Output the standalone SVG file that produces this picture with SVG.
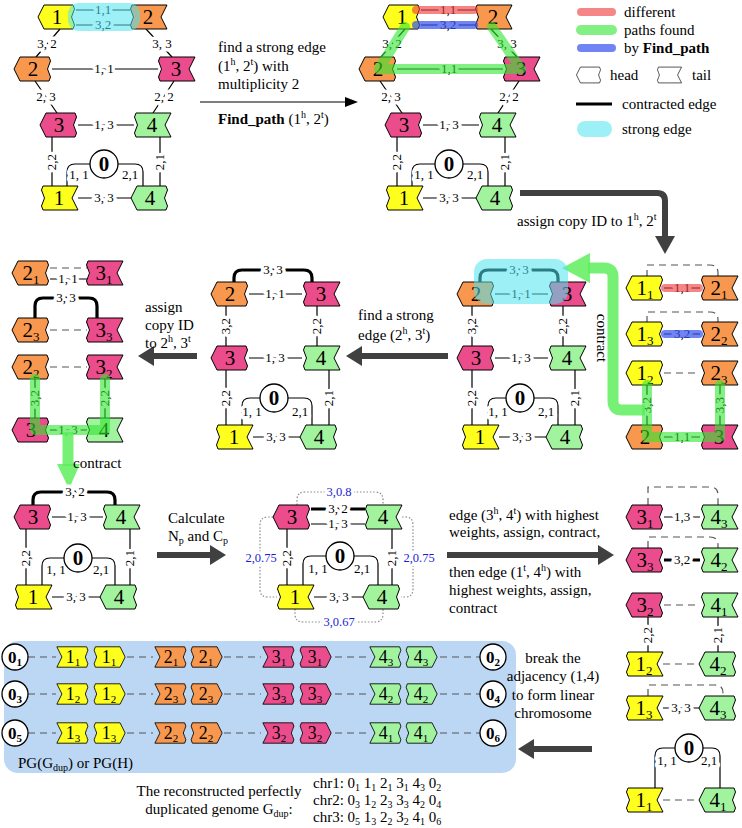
<svg xmlns="http://www.w3.org/2000/svg" width="742" height="828" viewBox="0 0 742 828" font-family="Liberation Serif, DejaVu Serif, serif">
<defs>
<path id="H" d="M-19,0 L-13,-12 L16,-12 Q19,-8 16,-4 Q13,0 16,4 Q19,8 16,12 L-13,12 Z"/>
<path id="T" d="M-16,-12 L19,-12 L13,0 L19,12 L-16,12 Q-19,8 -16,4 Q-13,0 -16,-4 Q-19,-8 -16,-12 Z"/>
<path id="Hr" d="M19,0 L13,-12 L-16,-12 Q-19,-8 -16,-4 Q-13,0 -16,4 Q-19,8 -16,12 L13,12 Z"/>
<path id="Tr" d="M16,-12 L-19,-12 L-13,0 L-19,12 L16,12 Q19,8 16,4 Q13,0 16,-4 Q19,-8 16,-12 Z"/>
<style>
svg text{font-family:'Liberation Serif','DejaVu Serif',serif;fill:#000}
use{stroke:#000;stroke-width:1}
.y{fill:#ffff1e}.o{fill:#f7984e}.p{fill:#eb4c8b}.g{fill:#a2f39e}.w{fill:#fff}
.nl{font-size:21px;text-anchor:middle}
.sb{font-size:13px}
.el{font-size:13px;text-anchor:middle;paint-order:stroke;stroke:#fff;stroke-width:7px;stroke-linejoin:round}
.tx{font-size:15px}
.e{stroke:#000;stroke-width:1.2;fill:none}
.ek{stroke:#000;stroke-width:3.2;fill:none}
.d{stroke:#555;stroke-width:1.2;fill:none;stroke-dasharray:7,5}
.dt{stroke:#8a8a8a;stroke-width:1.2;fill:none;stroke-dasharray:1.5,1.8}
.big{stroke:#404040;stroke-width:6;fill:none}
.ah{fill:#404040}
.c{fill:#fff;stroke:#000;stroke-width:1.3}
.z{font-size:21px;font-weight:bold;text-anchor:middle}
.zc{font-size:17px;font-weight:bold;text-anchor:middle}
.zs{font-size:11px}
.or{stroke:#f03c3c;stroke-opacity:.62;stroke-width:8;stroke-linecap:round;fill:none}
.ob{stroke:#3550ee;stroke-opacity:.7;stroke-width:8;stroke-linecap:round;fill:none}
.og{stroke:#2fe62f;stroke-opacity:.6;stroke-width:10;stroke-linecap:round;stroke-linejoin:round;fill:none}
.cy{fill:#4fe3f0;fill-opacity:.55}
.bl{fill:#1c1cd6;font-size:12.5px;text-anchor:middle;paint-order:stroke;stroke:#fff;stroke-width:6px;stroke-linejoin:round}
.ga{stroke:#5eef5e;stroke-opacity:.85;stroke-width:11;fill:none;stroke-linejoin:round}
.gh{fill:#5eef5e;fill-opacity:.85}
</style>
</defs>
<rect width="742" height="828" fill="#fff"/>

<!-- Blue box background -->
<rect x="4" y="641" width="512" height="132" rx="14" fill="#bcd7f4"/>

<!-- ===== Panel A ===== -->
<g id="connA">
<path class="e" d="M76,10H130M76,25H130M60,29L36,57M146,29L172,57M35,81L57,113M174,81L153,113M52,69H158M78,125H134M78,198H132M52,137V186M160,137V186M67,186V172Q67,164 75,164H90M118,164H135Q143,164 143,172V186"/>
<text class="el" x="103" y="14">1,1</text>
<text class="el" x="103" y="29">3,2</text>
<text class="el" x="47" y="48">3, 2</text>
<text class="el" x="162" y="48">3, 3</text>
<text class="el" x="104" y="73">1, 1</text>
<text class="el" x="46" y="101">2, 3</text>
<text class="el" x="164" y="101">2, 2</text>
<text class="el" x="104" y="129">1, 3</text>
<text class="el" x="104" y="202">3, 3</text>
<text class="el" transform="rotate(-90 52 162)" x="52" y="166">2,2</text>
<text class="el" transform="rotate(-90 160 162)" x="160" y="166">2,1</text>
<text class="el" x="79" y="179">1, 1</text>
<text class="el" x="130" y="179">2,1</text>
</g>
<g id="A1" transform="translate(57,17)"><use href="#H" class="y"/><text class="nl" y="7">1</text></g>
<g id="A2" transform="translate(148,17)"><use href="#T" class="o"/><text class="nl" y="7">2</text></g>
<g id="A3" transform="translate(33,69)"><use href="#H" class="o"/><text class="nl" y="7">2</text></g>
<g id="A4" transform="translate(176,69)"><use href="#T" class="p"/><text class="nl" y="7">3</text></g>
<g id="A5" transform="translate(59,125)"><use href="#H" class="p"/><text class="nl" y="7">3</text></g>
<g id="A6" transform="translate(152,125)"><use href="#T" class="g"/><text class="nl" y="7">4</text></g>
<g id="A7" transform="translate(59,198)"><use href="#T" class="y"/><text class="nl" y="7">1</text></g>
<g id="A8" transform="translate(150,198)"><use href="#H" class="g"/><text class="nl" y="7">4</text></g>
<g id="A0" transform="translate(104,164)"><circle class="c" r="14"/><text class="z" y="7">0</text></g>
<rect class="cy" x="68" y="3" width="72" height="28" rx="11"/>

<!-- arrow A -> B -->
<g id="arrowAB">
<text class="tx" x="218" y="52">find a strong edge</text>
<text class="tx" x="218" y="71">(1<tspan dy="-6" font-size="10">h</tspan><tspan dy="6">, 2</tspan><tspan dy="-6" font-size="10">t</tspan><tspan dy="6">) with</tspan></text>
<text class="tx" x="218" y="89">multiplicity 2</text>
<path class="e" d="M200,102H350" stroke-width="1.5"/>
<polygon points="358,102 345,97 345,107"/>
<text class="tx" x="218" y="124"><tspan font-weight="bold">Find_path</tspan> (1<tspan dy="-6" font-size="10">h</tspan><tspan dy="6">, 2</tspan><tspan dy="-6" font-size="10">t</tspan><tspan dy="6">)</tspan></text>
</g>

<!-- ===== Panel B ===== -->
<g transform="translate(345,0)">
<g id="connB">
<path class="e" d="M76,10H130M76,25H130M60,29L36,57M146,29L172,57M35,81L57,113M174,81L153,113M52,69H158M78,125H134M78,198H132M52,137V186M160,137V186M67,186V172Q67,164 75,164H90M118,164H135Q143,164 143,172V186"/>
<text class="el" x="103" y="14">1,1</text>
<text class="el" x="103" y="29">3,2</text>
<text class="el" x="47" y="48">3, 2</text>
<text class="el" x="162" y="48">3, 3</text>
<text class="el" x="104" y="73">1,1</text>
<text class="el" x="46" y="101">2, 3</text>
<text class="el" x="164" y="101">2, 2</text>
<text class="el" x="104" y="129">1, 3</text>
<text class="el" x="104" y="202">3, 3</text>
<text class="el" transform="rotate(-90 52 162)" x="52" y="166">2,2</text>
<text class="el" transform="rotate(-90 160 162)" x="160" y="166">2,1</text>
<text class="el" x="79" y="179">1, 1</text>
<text class="el" x="130" y="179">2,1</text>
</g>
<g id="B1" transform="translate(57,17)"><use href="#H" class="y"/><text class="nl" y="7">1</text></g>
<g id="B2" transform="translate(148,17)"><use href="#T" class="o"/><text class="nl" y="7">2</text></g>
<g id="B3" transform="translate(33,69)"><use href="#H" class="o"/><text class="nl" y="7">2</text></g>
<g id="B4" transform="translate(176,69)"><use href="#T" class="p"/><text class="nl" y="7">3</text></g>
<g id="B5" transform="translate(59,125)"><use href="#H" class="p"/><text class="nl" y="7">3</text></g>
<g id="B6" transform="translate(152,125)"><use href="#T" class="g"/><text class="nl" y="7">4</text></g>
<g id="B7" transform="translate(59,198)"><use href="#T" class="y"/><text class="nl" y="7">1</text></g>
<g id="B8" transform="translate(150,198)"><use href="#H" class="g"/><text class="nl" y="7">4</text></g>
<g id="B0" transform="translate(104,164)"><circle class="c" r="14"/><text class="z" y="7">0</text></g>
<path class="or" d="M71,10H129"/>
<path class="ob" d="M71,25H129"/>
<path class="og" d="M60,27L34,69H176L147,27"/>
</g>

<!-- Legend -->
<g id="legend">
<path class="or" d="M581,12H612" stroke-width="9" stroke-opacity=".85"/>
<path class="og" d="M581,30H612" stroke-width="9" stroke-opacity=".85"/>
<path class="ob" d="M581,48H612" stroke-width="9" stroke-opacity=".85"/>
<text class="tx" x="624" y="17">different</text>
<text class="tx" x="624" y="35">paths found</text>
<text class="tx" x="624" y="53">by <tspan font-weight="bold">Find_path</tspan></text>
<use href="#H" class="w" transform="translate(589,75) scale(0.66)"/>
<text class="tx" x="610" y="80">head</text>
<use href="#T" class="w" transform="translate(669,75) scale(0.66)"/>
<text class="tx" x="692" y="80">tail</text>
<path d="M576,104H612" stroke="#000" stroke-width="3"/>
<text class="tx" x="622" y="109">contracted edge</text>
<rect class="cy" x="577" y="121" width="35" height="16" rx="8"/>
<text class="tx" x="622" y="134">strong edge</text>
</g>

<!-- arrow B -> R -->
<g id="arrowBR">
<path class="big" d="M520,193H657Q665,193 665,201V238"/>
<polygon class="ah" points="655,236 675,236 665,254"/>
<text class="tx" x="517" y="226">assign copy ID to 1<tspan dy="-6" font-size="10">h</tspan><tspan dy="6">, 2</tspan><tspan dy="-6" font-size="10">t</tspan></text>
</g>

<!-- ===== Right column R ===== -->
<g id="connR">
<path class="d" d="M647,277V265H710Q718,265 718,273V277M647,323V312H710Q718,312 718,320V323M664,373H700"/>
<path class="e" d="M664,288H700M664,334H700M664,437H700M647,385V425M720,385V425"/>
<text class="el" x="682" y="292">1,1</text>
<text class="el" x="682" y="338">3,2</text>
<text class="el" x="682" y="441">1,1</text>
<text class="el" transform="rotate(-90 647 405)" x="647" y="409">3,2</text>
<text class="el" transform="rotate(-90 720 405)" x="720" y="409">3,3</text>
</g>
<g id="R1" transform="translate(645,288)"><use href="#H" class="y"/><text class="nl" y="7">1<tspan class="sb" dy="4">1</tspan></text></g>
<g id="R2" transform="translate(719,288)"><use href="#T" class="o"/><text class="nl" y="7">2<tspan class="sb" dy="4">1</tspan></text></g>
<g id="R3" transform="translate(645,334)"><use href="#H" class="y"/><text class="nl" y="7">1<tspan class="sb" dy="4">3</tspan></text></g>
<g id="R4" transform="translate(719,334)"><use href="#T" class="o"/><text class="nl" y="7">2<tspan class="sb" dy="4">2</tspan></text></g>
<g id="R5" transform="translate(645,373)"><use href="#H" class="y"/><text class="nl" y="7">1<tspan class="sb" dy="4">2</tspan></text></g>
<g id="R6" transform="translate(719,373)"><use href="#T" class="o"/><text class="nl" y="7">2<tspan class="sb" dy="4">3</tspan></text></g>
<g id="R7" transform="translate(645,437)"><use href="#H" class="o"/><text class="nl" y="7">2</text></g>
<g id="R8" transform="translate(719,437)"><use href="#T" class="p"/><text class="nl" y="7">3</text></g>
<path class="or" d="M665,288H699"/>
<path class="ob" d="M665,334H699"/>
<path class="og" d="M647,385V437H720V385"/>
<g id="arrowContract1">
<path class="ga" d="M645,410H622Q613,410 613,401V277Q613,268 604,268H588"/>
<polygon class="gh" points="562,268 590,253 590,283"/>
<text class="tx" transform="rotate(90 601 338)" x="601" y="342" text-anchor="middle">contract</text>
</g>

<!-- ===== Panel C ===== -->
<g id="connC">
<path class="ek" d="M480,282V278Q480,270 488,270H550Q558,270 558,278V282"/>
<text class="el" x="519" y="274">3, 3</text>
<path class="e" d="M495,294H548M495,358H548M499,437H546M472,306V346M563,306V346M472,370V425M575,370V425M488,425V406Q488,398 496,398H506M534,398H550Q558,398 558,406V425"/>
<text class="el" x="521" y="298">1, 1</text>
<text class="el" x="521" y="362">1, 3</text>
<text class="el" x="522" y="441">3, 3</text>
<text class="el" transform="rotate(-90 472 326)" x="472" y="330">3,2</text>
<text class="el" transform="rotate(-90 563 326)" x="563" y="330">2,2</text>
<text class="el" transform="rotate(-90 472 398)" x="472" y="402">2,2</text>
<text class="el" transform="rotate(-90 575 398)" x="575" y="402">2,1</text>
<text class="el" x="498" y="416">1, 1</text>
<text class="el" x="546" y="416">2,1</text>
</g>
<g id="C1" transform="translate(476,294)"><use href="#H" class="o"/><text class="nl" y="7">2</text></g>
<g id="C2" transform="translate(567,294)"><use href="#T" class="p"/><text class="nl" y="7">3</text></g>
<g id="C3" transform="translate(476,358)"><use href="#H" class="p"/><text class="nl" y="7">3</text></g>
<g id="C4" transform="translate(567,358)"><use href="#T" class="g"/><text class="nl" y="7">4</text></g>
<g id="C5" transform="translate(480,437)"><use href="#T" class="y"/><text class="nl" y="7">1</text></g>
<g id="C6" transform="translate(565,437)"><use href="#H" class="g"/><text class="nl" y="7">4</text></g>
<g id="C0" transform="translate(520,398)"><circle class="c" r="14"/><text class="z" y="7">0</text></g>
<rect class="cy" x="474" y="259" width="94" height="45" rx="13"/>

<!-- arrow C -> D -->
<g id="arrowCD">
<path class="big" d="M448,356H360"/>
<polygon class="ah" points="346,356 362,346 362,366"/>
<text class="tx" x="358" y="320">find a strong</text>
<text class="tx" x="358" y="340">edge (2<tspan dy="-6" font-size="10">h</tspan><tspan dy="6">, 3</tspan><tspan dy="-6" font-size="10">t</tspan><tspan dy="6">)</tspan></text>
</g>

<!-- ===== Panel D ===== -->
<g transform="translate(-246,0)">
<g id="connD">
<path class="ek" d="M480,282V278Q480,270 488,270H550Q558,270 558,278V282"/>
<text class="el" x="519" y="274">3, 3</text>
<path class="e" d="M495,294H548M495,358H548M499,437H546M472,306V346M563,306V346M472,370V425M575,370V425M488,425V406Q488,398 496,398H506M534,398H550Q558,398 558,406V425"/>
<text class="el" x="521" y="298">1, 1</text>
<text class="el" x="521" y="362">1, 3</text>
<text class="el" x="522" y="441">3, 3</text>
<text class="el" transform="rotate(-90 472 326)" x="472" y="330">3,2</text>
<text class="el" transform="rotate(-90 563 326)" x="563" y="330">2,2</text>
<text class="el" transform="rotate(-90 472 398)" x="472" y="402">2,2</text>
<text class="el" transform="rotate(-90 575 398)" x="575" y="402">2,1</text>
<text class="el" x="498" y="416">1, 1</text>
<text class="el" x="546" y="416">2,1</text>
</g>
<g id="D1" transform="translate(476,294)"><use href="#H" class="o"/><text class="nl" y="7">2</text></g>
<g id="D2" transform="translate(567,294)"><use href="#T" class="p"/><text class="nl" y="7">3</text></g>
<g id="D3" transform="translate(476,358)"><use href="#H" class="p"/><text class="nl" y="7">3</text></g>
<g id="D4" transform="translate(567,358)"><use href="#T" class="g"/><text class="nl" y="7">4</text></g>
<g id="D5" transform="translate(480,437)"><use href="#T" class="y"/><text class="nl" y="7">1</text></g>
<g id="D6" transform="translate(565,437)"><use href="#H" class="g"/><text class="nl" y="7">4</text></g>
<g id="D0" transform="translate(520,398)"><circle class="c" r="14"/><text class="z" y="7">0</text></g>
</g>

<!-- arrow D -> E -->
<g id="arrowDE">
<path class="big" d="M197,356H152"/>
<polygon class="ah" points="138,356 154,346 154,366"/>
<text class="tx" x="145" y="312">assign</text>
<text class="tx" x="145" y="330">copy ID</text>
<text class="tx" x="145" y="348">to 2<tspan dy="-6" font-size="10">h</tspan><tspan dy="6">, 3</tspan><tspan dy="-6" font-size="10">t</tspan></text>
</g>

<!-- ===== Panel E ===== -->
<g id="connE">
<path class="d" d="M50,268H87M50,330H87M50,367H87"/>
<path class="e" d="M50,279H87M50,430H87M35,379V418M105,379V418"/>
<path class="ek" d="M35,318V306Q35,298 43,298H89Q97,298 97,306V318"/>
<text class="el" x="68" y="283">1, 1</text>
<text class="el" x="66" y="302">3, 3</text>
<text class="el" x="68" y="434">1, 3</text>
<text class="el" transform="rotate(-90 35 398)" x="35" y="402">3,2</text>
<text class="el" transform="rotate(-90 105 398)" x="105" y="402">2,2</text>
</g>
<g id="E1" transform="translate(31,273)"><use href="#H" class="o"/><text class="nl" y="7">2<tspan class="sb" dy="4">1</tspan></text></g>
<g id="E2" transform="translate(104,273)"><use href="#T" class="p"/><text class="nl" y="7">3<tspan class="sb" dy="4">1</tspan></text></g>
<g id="E3" transform="translate(31,330)"><use href="#H" class="o"/><text class="nl" y="7">2<tspan class="sb" dy="4">3</tspan></text></g>
<g id="E4" transform="translate(104,330)"><use href="#T" class="p"/><text class="nl" y="7">3<tspan class="sb" dy="4">3</tspan></text></g>
<g id="E5" transform="translate(31,367)"><use href="#H" class="o"/><text class="nl" y="7">2<tspan class="sb" dy="4">2</tspan></text></g>
<g id="E6" transform="translate(104,367)"><use href="#T" class="p"/><text class="nl" y="7">3<tspan class="sb" dy="4">2</tspan></text></g>
<g id="E7" transform="translate(31,430)"><use href="#H" class="p"/><text class="nl" y="7">3</text></g>
<g id="E8" transform="translate(104,430)"><use href="#T" class="g"/><text class="nl" y="7">4</text></g>
<path class="og" d="M35,379V430H105V379"/>
<g id="arrowContract2">
<path class="ga" d="M68,432V466"/>
<polygon class="gh" points="57,464 80,464 69,489"/>
<text class="tx" x="73" y="468">contract</text>
</g>

<!-- ===== Panel F ===== -->
<g id="connF">
<path class="ek" d="M33,505V500Q33,492 41,492H107Q115,492 115,500V505"/>
<text class="el" x="75" y="496">3, 2</text>
<path class="e" d="M52,517H103M52,597H101M26,529V585M130,529V585M42,585V566Q42,558 50,558H64M92,558H107Q115,558 115,566V585"/>
<text class="el" x="77" y="521">1, 3</text>
<text class="el" x="76" y="601">3, 3</text>
<text class="el" transform="rotate(-90 26 558)" x="26" y="562">2,2</text>
<text class="el" transform="rotate(-90 130 558)" x="130" y="562">2,1</text>
<text class="el" x="56" y="574">1, 1</text>
<text class="el" x="101" y="574">2,1</text>
</g>
<g id="F1" transform="translate(33,517)"><use href="#H" class="p"/><text class="nl" y="7">3</text></g>
<g id="F2" transform="translate(121,517)"><use href="#T" class="g"/><text class="nl" y="7">4</text></g>
<g id="F3" transform="translate(33,597)"><use href="#T" class="y"/><text class="nl" y="7">1</text></g>
<g id="F4" transform="translate(119,597)"><use href="#H" class="g"/><text class="nl" y="7">4</text></g>
<g id="F0" transform="translate(78,558)"><circle class="c" r="14"/><text class="z" y="7">0</text></g>

<!-- arrow F -> G -->
<g id="arrowFG">
<path class="big" d="M157,555H212"/>
<polygon class="ah" points="226,555 210,545 210,565"/>
<text class="tx" x="168" y="523">Calculate</text>
<text class="tx" x="168" y="541">N<tspan dy="3" font-size="10">p</tspan><tspan dy="-3"> and C</tspan><tspan dy="3" font-size="10">p</tspan></text>
</g>

<!-- ===== Panel G ===== -->
<g id="connG">
<path class="dt" d="M297,505V500Q297,492 305,492H375Q383,492 383,500V505M273,517H268Q260,517 260,525V589Q260,597 268,597H277M402,517H405Q413,517 413,525V589Q413,597 405,597H401M295,609V614Q295,622 303,622H375Q383,622 383,614V609"/>
<path class="ek" d="M311,509H365"/>
<path class="e" d="M311,524H365M314,597H363M287,529V585M392,529V585M303,585V564Q303,556 311,556H326M354,556H370Q378,556 378,564V585"/>
<text class="el" x="338" y="513">3, 2</text>
<text class="el" x="338" y="528">1, 3</text>
<text class="el" x="339" y="601">3, 3</text>
<text class="el" transform="rotate(-90 287 558)" x="287" y="562">2,2</text>
<text class="el" transform="rotate(-90 392 558)" x="392" y="562">2,1</text>
<text class="el" x="318" y="573">1, 1</text>
<text class="el" x="362" y="573">2,1</text>
<text class="bl" x="339" y="496">3,0.8</text>
<text class="bl" x="261" y="562">2,0.75</text>
<text class="bl" x="419" y="562">2,0.75</text>
<text class="bl" x="339" y="626">3,0.67</text>
</g>
<g id="G1" transform="translate(292,517)"><use href="#H" class="p"/><text class="nl" y="7">3</text></g>
<g id="G2" transform="translate(383,517)"><use href="#T" class="g"/><text class="nl" y="7">4</text></g>
<g id="G3" transform="translate(295,597)"><use href="#T" class="y"/><text class="nl" y="7">1</text></g>
<g id="G4" transform="translate(382,597)"><use href="#H" class="g"/><text class="nl" y="7">4</text></g>
<g id="G0" transform="translate(340,556)"><circle class="c" r="14"/><text class="z" y="7">0</text></g>

<!-- arrow G -> H -->
<g id="arrowGH">
<path class="big" d="M447,555H598"/>
<polygon class="ah" points="614,555 598,545 598,565"/>
<text class="tx" x="449" y="520">edge (3<tspan dy="-6" font-size="10">h</tspan><tspan dy="6">, 4</tspan><tspan dy="-6" font-size="10">t</tspan><tspan dy="6">) with highest</tspan></text>
<text class="tx" x="449" y="537">weights, assign, contract,</text>
<text class="tx" x="449" y="577">then edge (1<tspan dy="-6" font-size="10">t</tspan><tspan dy="6">, 4</tspan><tspan dy="-6" font-size="10">h</tspan><tspan dy="6">) with</tspan></text>
<text class="tx" x="449" y="595">highest weights, assign,</text>
<text class="tx" x="449" y="613">contract</text>
</g>

<!-- ===== Panel H ===== -->
<g id="connH">
<path class="d" d="M648,505V487H710Q718,487 718,495V505M648,548V537H710Q718,537 718,545V548M664,605H700M663,664H699M648,696V685H715Q723,685 723,693V696M663,800H699"/>
<path class="e" d="M664,517H700M648,617V652M718,617V652M663,708H699M655,788V756Q655,748 663,748H675M703,748H712Q720,748 720,756V788"/>
<path class="ek" d="M664,560H700"/>
<text class="el" x="682" y="521">1,3</text>
<text class="el" x="682" y="564">3,2</text>
<text class="el" transform="rotate(-90 648 635)" x="648" y="639">2,2</text>
<text class="el" transform="rotate(-90 718 635)" x="718" y="639">2,1</text>
<text class="el" x="681" y="712">3, 3</text>
<text class="el" x="667" y="765">1, 1</text>
<text class="el" x="709" y="765">2,1</text>
</g>
<g id="H1" transform="translate(645,517)"><use href="#H" class="p"/><text class="nl" y="7">3<tspan class="sb" dy="4">1</tspan></text></g>
<g id="H2" transform="translate(719,517)"><use href="#T" class="g"/><text class="nl" y="7">4<tspan class="sb" dy="4">3</tspan></text></g>
<g id="H3" transform="translate(645,560)"><use href="#H" class="p"/><text class="nl" y="7">3<tspan class="sb" dy="4">3</tspan></text></g>
<g id="H4" transform="translate(719,560)"><use href="#T" class="g"/><text class="nl" y="7">4<tspan class="sb" dy="4">2</tspan></text></g>
<g id="H5" transform="translate(645,605)"><use href="#H" class="p"/><text class="nl" y="7">3<tspan class="sb" dy="4">2</tspan></text></g>
<g id="H6" transform="translate(719,605)"><use href="#T" class="g"/><text class="nl" y="7">4<tspan class="sb" dy="4">1</tspan></text></g>
<g id="H7" transform="translate(644,664)"><use href="#T" class="y"/><text class="nl" y="7">1<tspan class="sb" dy="4">2</tspan></text></g>
<g id="H8" transform="translate(718,664)"><use href="#H" class="g"/><text class="nl" y="7">4<tspan class="sb" dy="4">2</tspan></text></g>
<g id="H9" transform="translate(644,708)"><use href="#T" class="y"/><text class="nl" y="7">1<tspan class="sb" dy="4">3</tspan></text></g>
<g id="H10" transform="translate(718,708)"><use href="#H" class="g"/><text class="nl" y="7">4<tspan class="sb" dy="4">3</tspan></text></g>
<g id="H11" transform="translate(644,800)"><use href="#T" class="y"/><text class="nl" y="7">1<tspan class="sb" dy="4">1</tspan></text></g>
<g id="H12" transform="translate(718,800)"><use href="#H" class="g"/><text class="nl" y="7">4<tspan class="sb" dy="4">1</tspan></text></g>
<g id="H0" transform="translate(689,748)"><circle class="c" r="14"/><text class="z" y="7">0</text></g>

<!-- arrow H -> box -->
<g id="arrowHK">
<path class="big" d="M592,749H532"/>
<polygon class="ah" points="518,749 534,739 534,759"/>
<text class="tx" x="553" y="663" text-anchor="middle">break the</text>
<text class="tx" x="553" y="681" text-anchor="middle">adjacency (1,4)</text>
<text class="tx" x="553" y="700" text-anchor="middle">to form linear</text>
<text class="tx" x="553" y="718" text-anchor="middle">chromosome</text>
</g>

<!-- ===== Chromosome box ===== -->
<g id="connK">
<path class="d" d="M28,657H56M127,657H153M224,657H261M335,657H368M440,657H480M28,694H56M127,694H153M224,694H261M335,694H368M440,694H480M28,733H56M127,733H153M224,733H261M335,733H368M440,733H480"/>
</g>
<g id="K1z1" transform="translate(15,657)"><circle class="c" r="13"/><text class="zc" y="6">0<tspan class="zs" dy="3">1</tspan></text></g>
<g id="K1a" transform="translate(73,657) scale(0.85)"><use href="#Tr" class="y"/><text class="nl" y="7">1<tspan class="sb" dy="4">1</tspan></text></g>
<g id="K1b" transform="translate(109,657) scale(0.85)"><use href="#Hr" class="y"/><text class="nl" y="7">1<tspan class="sb" dy="4">1</tspan></text></g>
<g id="K1c" transform="translate(171,657) scale(0.85)"><use href="#Tr" class="o"/><text class="nl" y="7">2<tspan class="sb" dy="4">1</tspan></text></g>
<g id="K1d" transform="translate(206,657) scale(0.85)"><use href="#Hr" class="o"/><text class="nl" y="7">2<tspan class="sb" dy="4">1</tspan></text></g>
<g id="K1e" transform="translate(279,657) scale(0.85)"><use href="#Tr" class="p"/><text class="nl" y="7">3<tspan class="sb" dy="4">1</tspan></text></g>
<g id="K1f" transform="translate(315,657) scale(0.85)"><use href="#Hr" class="p"/><text class="nl" y="7">3<tspan class="sb" dy="4">1</tspan></text></g>
<g id="K1g" transform="translate(386,657) scale(0.85)"><use href="#Tr" class="g"/><text class="nl" y="7">4<tspan class="sb" dy="4">3</tspan></text></g>
<g id="K1h" transform="translate(421,657) scale(0.85)"><use href="#Hr" class="g"/><text class="nl" y="7">4<tspan class="sb" dy="4">3</tspan></text></g>
<g id="K1z2" transform="translate(493,657)"><circle class="c" r="13"/><text class="zc" y="6">0<tspan class="zs" dy="3">2</tspan></text></g>

<g id="K2z1" transform="translate(15,694)"><circle class="c" r="13"/><text class="zc" y="6">0<tspan class="zs" dy="3">3</tspan></text></g>
<g id="K2a" transform="translate(73,694) scale(0.85)"><use href="#Tr" class="y"/><text class="nl" y="7">1<tspan class="sb" dy="4">2</tspan></text></g>
<g id="K2b" transform="translate(109,694) scale(0.85)"><use href="#Hr" class="y"/><text class="nl" y="7">1<tspan class="sb" dy="4">2</tspan></text></g>
<g id="K2c" transform="translate(171,694) scale(0.85)"><use href="#Tr" class="o"/><text class="nl" y="7">2<tspan class="sb" dy="4">3</tspan></text></g>
<g id="K2d" transform="translate(206,694) scale(0.85)"><use href="#Hr" class="o"/><text class="nl" y="7">2<tspan class="sb" dy="4">3</tspan></text></g>
<g id="K2e" transform="translate(279,694) scale(0.85)"><use href="#Tr" class="p"/><text class="nl" y="7">3<tspan class="sb" dy="4">3</tspan></text></g>
<g id="K2f" transform="translate(315,694) scale(0.85)"><use href="#Hr" class="p"/><text class="nl" y="7">3<tspan class="sb" dy="4">3</tspan></text></g>
<g id="K2g" transform="translate(386,694) scale(0.85)"><use href="#Tr" class="g"/><text class="nl" y="7">4<tspan class="sb" dy="4">2</tspan></text></g>
<g id="K2h" transform="translate(421,694) scale(0.85)"><use href="#Hr" class="g"/><text class="nl" y="7">4<tspan class="sb" dy="4">2</tspan></text></g>
<g id="K2z2" transform="translate(493,694)"><circle class="c" r="13"/><text class="zc" y="6">0<tspan class="zs" dy="3">4</tspan></text></g>

<g id="K3z1" transform="translate(15,733)"><circle class="c" r="13"/><text class="zc" y="6">0<tspan class="zs" dy="3">5</tspan></text></g>
<g id="K3a" transform="translate(73,733) scale(0.85)"><use href="#Tr" class="y"/><text class="nl" y="7">1<tspan class="sb" dy="4">3</tspan></text></g>
<g id="K3b" transform="translate(109,733) scale(0.85)"><use href="#Hr" class="y"/><text class="nl" y="7">1<tspan class="sb" dy="4">3</tspan></text></g>
<g id="K3c" transform="translate(171,733) scale(0.85)"><use href="#Tr" class="o"/><text class="nl" y="7">2<tspan class="sb" dy="4">2</tspan></text></g>
<g id="K3d" transform="translate(206,733) scale(0.85)"><use href="#Hr" class="o"/><text class="nl" y="7">2<tspan class="sb" dy="4">2</tspan></text></g>
<g id="K3e" transform="translate(279,733) scale(0.85)"><use href="#Tr" class="p"/><text class="nl" y="7">3<tspan class="sb" dy="4">2</tspan></text></g>
<g id="K3f" transform="translate(315,733) scale(0.85)"><use href="#Hr" class="p"/><text class="nl" y="7">3<tspan class="sb" dy="4">2</tspan></text></g>
<g id="K3g" transform="translate(386,733) scale(0.85)"><use href="#Tr" class="g"/><text class="nl" y="7">4<tspan class="sb" dy="4">1</tspan></text></g>
<g id="K3h" transform="translate(421,733) scale(0.85)"><use href="#Hr" class="g"/><text class="nl" y="7">4<tspan class="sb" dy="4">1</tspan></text></g>
<g id="K3z2" transform="translate(493,733)"><circle class="c" r="13"/><text class="zc" y="6">0<tspan class="zs" dy="3">6</tspan></text></g>

<g id="captions">
<text class="tx" x="18" y="768">PG(G<tspan dy="3" font-size="10">dup</tspan><tspan dy="-3">) or PG(H)</tspan></text>
<text class="tx" x="219" y="796" text-anchor="middle">The reconstructed perfectly</text>
<text class="tx" x="219" y="814" text-anchor="middle">duplicated genome G<tspan dy="3" font-size="10">dup</tspan><tspan dy="-3">:</tspan></text>
<text class="tx" x="313" y="788">chr1: 0<tspan dy="3" font-size="10">1</tspan><tspan dy="-3"> 1</tspan><tspan dy="3" font-size="10">1</tspan><tspan dy="-3"> 2</tspan><tspan dy="3" font-size="10">1</tspan><tspan dy="-3"> 3</tspan><tspan dy="3" font-size="10">1</tspan><tspan dy="-3"> 4</tspan><tspan dy="3" font-size="10">3</tspan><tspan dy="-3"> 0</tspan><tspan dy="3" font-size="10">2</tspan></text>
<text class="tx" x="313" y="805">chr2: 0<tspan dy="3" font-size="10">3</tspan><tspan dy="-3"> 1</tspan><tspan dy="3" font-size="10">2</tspan><tspan dy="-3"> 2</tspan><tspan dy="3" font-size="10">3</tspan><tspan dy="-3"> 3</tspan><tspan dy="3" font-size="10">3</tspan><tspan dy="-3"> 4</tspan><tspan dy="3" font-size="10">2</tspan><tspan dy="-3"> 0</tspan><tspan dy="3" font-size="10">4</tspan></text>
<text class="tx" x="313" y="822">chr3: 0<tspan dy="3" font-size="10">5</tspan><tspan dy="-3"> 1</tspan><tspan dy="3" font-size="10">3</tspan><tspan dy="-3"> 2</tspan><tspan dy="3" font-size="10">2</tspan><tspan dy="-3"> 3</tspan><tspan dy="3" font-size="10">2</tspan><tspan dy="-3"> 4</tspan><tspan dy="3" font-size="10">1</tspan><tspan dy="-3"> 0</tspan><tspan dy="3" font-size="10">6</tspan></text>
</g>
</svg>
